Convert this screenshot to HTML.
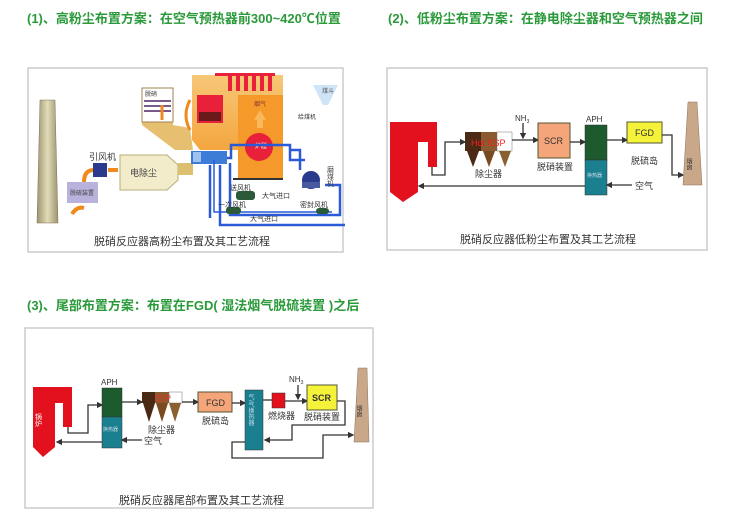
<!DOCTYPE html>
<html><head><meta charset="utf-8"><style>
html,body{margin:0;padding:0;background:#fff;width:730px;height:521px;overflow:hidden}
svg{display:block;font-family:"Liberation Sans","Noto Sans CJK SC",sans-serif}
.t{fill:#2a9a3a;font-weight:bold;font-size:13px}
.c{fill:#333;font-size:11px}
.s{fill:#333;font-size:9px}
.l{stroke:#333;stroke-width:1.3;fill:none}
</style></head><body>
<svg width="730" height="521" viewBox="0 0 730 521" xmlns="http://www.w3.org/2000/svg">
<defs>
<marker id="a" markerWidth="5" markerHeight="5" refX="4" refY="2.5" orient="auto"><path d="M0,0L5,2.5L0,5z" fill="#333"/></marker>
<linearGradient id="ch" x1="0" x2="1"><stop offset="0" stop-color="#9d9470"/><stop offset=".5" stop-color="#e3dcb8"/><stop offset="1" stop-color="#9d9470"/></linearGradient>
<linearGradient id="bo" x1="0" y1="0" x2="0" y2="1"><stop offset="0" stop-color="#f7c878"/><stop offset="1" stop-color="#f39a2c"/></linearGradient>
</defs>
<!-- titles -->
<text class="t" x="27" y="23">(1)、高粉尘布置方案：在空气预热器前300~420℃位置</text>
<text class="t" x="388" y="23">(2)、低粉尘布置方案：在静电除尘器和空气预热器之间</text>
<text class="t" x="27" y="310">(3)、尾部布置方案：布置在FGD( 湿法烟气脱硫装置 )之后</text>

<!-- panel 1 -->
<rect x="28" y="68" width="315" height="184" fill="#fff" stroke="#ccc" stroke-width="1.5"/>
<polygon points="40,100 55,100 58,223 37,223" fill="url(#ch)" stroke="#7a7355" stroke-width=".5"/>
<rect x="67" y="182" width="31" height="21" fill="#b8b2dc"/>
<text x="70" y="195" style="font-size:6px;fill:#444">脱硫装置</text>
<path d="M72,214 q5,-8 12,-6 M84,182 q0,-12 10,-12" stroke="#f08a1e" stroke-width="4" fill="none"/>
<text class="s" x="89" y="160">引风机</text>
<rect x="93" y="163" width="14" height="14" fill="#2a3a8c"/>
<path d="M108,170 L118,170" stroke="#f08a1e" stroke-width="4"/>
<polygon points="120,155 167,155 178,165 178,180 167,190 120,190" fill="#f2eccb" stroke="#b8ad7a"/>
<text x="130" y="176" style="font-size:9px;fill:#444">电除尘</text>
<rect x="178" y="163" width="15" height="12" fill="#dcc070"/>
<rect x="191" y="151" width="36" height="13" fill="#3c7bd6"/>
<rect x="193" y="152" width="8" height="10" fill="#9ec3f0"/>
<polygon points="142,88 173,88 173,125 190,128 193,150 175,150 142,125" fill="#e6c070"/>
<rect x="142" y="88" width="31" height="34" fill="#fff" stroke="#a08050"/>
<text x="145" y="96" style="font-size:6px;fill:#333">脱硝</text>
<rect x="144" y="100" width="27" height="2" fill="#7a5a8a"/><rect x="144" y="105" width="27" height="2" fill="#7a5a8a"/><rect x="144" y="110" width="27" height="2" fill="#7a5a8a"/>
<path d="M162,120 v-15 M190,100 q-8,15 0,30" stroke="#f08a1e" stroke-width="3" fill="none"/>
<polygon points="192,75 283,75 283,175 240,175 240,150 200,150 192,140" fill="url(#bo)"/>
<polygon points="200,72 280,72 280,85 275,85" fill="none"/>
<g fill="#e8203a"><rect x="228" y="73" width="4" height="18"/><rect x="236" y="73" width="4" height="18"/><rect x="244" y="73" width="4" height="18"/><rect x="252" y="73" width="4" height="18"/><rect x="260" y="73" width="4" height="18"/><rect x="268" y="73" width="4" height="18"/><rect x="215" y="73" width="60" height="3"/></g>
<rect x="197" y="95" width="26" height="28" fill="#e8203a"/><rect x="199" y="112" width="22" height="9" fill="#6a1a1a"/>
<rect x="238" y="95" width="45" height="85" fill="#f59a2a"/>
<polygon points="254,120 260,110 266,120 263,120 263,128 257,128 257,120" fill="#f8b85a"/>
<text x="254" y="106" style="font-size:6px;fill:#833">烟气</text>
<circle cx="259" cy="147" r="14" fill="#e8203a"/>
<text x="255" y="148" style="font-size:6px;fill:#fff">炉膛</text>
<rect x="233" y="178" width="50" height="2" fill="#333"/>
<path d="M227,158 H231 V145 H290 V160 H305 M290,150 H300 V170" stroke="#2a5ad6" stroke-width="2.5" fill="none"/>
<path d="M230,163 V215 H340 V185 H325 M220,165 V225 H345 M210,165 V218" stroke="#2a5ad6" stroke-width="2.5" fill="none"/>
<path d="M214,160 V212 H332" stroke="#2a5ad6" stroke-width="1.5" fill="none"/>
<ellipse cx="311" cy="180" rx="9" ry="9" fill="#2a3a8c"/><rect x="302" y="182" width="18" height="6" fill="#4a5aa0"/>
<text x="330" y="166" style="font-size:7px;fill:#444;writing-mode:tb">磨煤机</text>
<polygon points="313,85 338,85 328,105 323,105" fill="#cfe4f6"/>
<text x="322" y="93" style="font-size:6px;fill:#555">煤斗</text>
<text x="298" y="119" style="font-size:6px;fill:#333">给煤机</text>
<rect x="236" y="191" width="19" height="9" rx="3" fill="#2a5a3a"/>
<rect x="226" y="207" width="15" height="7" rx="3" fill="#2a5a3a"/>
<rect x="316" y="208" width="13" height="6" rx="3" fill="#2a5a3a"/>
<text x="230" y="190" style="font-size:7px;fill:#333">送风机</text>
<text x="218" y="207" style="font-size:7px;fill:#333">一次风机</text>
<text x="262" y="198" style="font-size:7px;fill:#333">大气进口</text>
<text x="250" y="221" style="font-size:7px;fill:#333">大气进口</text>
<text x="300" y="207" style="font-size:7px;fill:#333">密封风机</text>
<text class="c" x="94" y="245">脱硝反应器高粉尘布置及其工艺流程</text>

<!-- panel 2 -->
<rect x="387" y="68" width="320" height="182" fill="#fff" stroke="#ccc" stroke-width="1.5"/>
<polygon points="390,122 437,122 437,167 428,167 428,142 418,142 418,192 403,202 390,192" fill="#e3101d"/>
<path class="l" d="M432,167 V175 H445 V142 H465" marker-end="url(#a)"/>
<rect x="465" y="132" width="16" height="19" fill="#4a2a14"/><rect x="481" y="132" width="16" height="19" fill="#8a5a30"/><rect x="497" y="132" width="15" height="19" fill="#fff" stroke="#777" stroke-width=".5"/>
<polygon points="467,151 479,151 473,167" fill="#4a2a14"/><polygon points="483,151 495,151 489,167" fill="#7a4a20"/><polygon points="499,151 511,151 505,167" fill="#8a6030"/>
<text x="471" y="146" style="font-size:9px;fill:#f02020">Hot ESP</text>
<text class="s" x="475" y="177">除尘器</text>
<path class="l" d="M512,140 H538" marker-end="url(#a)"/>
<text x="515" y="121" style="font-size:8px;fill:#333">NH<tspan style="font-size:5px" dy="2">3</tspan></text>
<path class="l" d="M523,123 V138" marker-end="url(#a)"/>
<rect x="538" y="123" width="32" height="35" fill="#f4a57a" stroke="#553" stroke-width="1"/>
<text x="544" y="144" style="font-size:9px;fill:#333">SCR</text>
<text class="s" x="537" y="170">脱硝装置</text>
<path class="l" d="M570,142 H585" marker-end="url(#a)"/>
<text x="586" y="122" style="font-size:8px;fill:#333">APH</text>
<rect x="585" y="125" width="22" height="35" fill="#1d5a2e" stroke="#333" stroke-width=".5"/>
<rect x="585" y="160" width="22" height="35" fill="#1a7f8f" stroke="#333" stroke-width=".5"/>
<text x="587" y="177" style="font-size:5px;fill:#cde">换热器</text>
<path class="l" d="M607,140 H627" marker-end="url(#a)"/>
<rect x="627" y="122" width="35" height="21" fill="#f5f23a" stroke="#553" stroke-width="1"/>
<text x="635" y="136" style="font-size:9px;fill:#333">FGD</text>
<text class="s" x="631" y="164">脱硫岛</text>
<path class="l" d="M662,135 H672 V175 H683" marker-end="url(#a)"/>
<polygon points="688,102 697,102 702,185 683,185" fill="#c9a88a" stroke="#8a7058" stroke-width=".5"/>
<text x="688" y="158" style="font-size:6px;fill:#333;writing-mode:tb">烟囱</text>
<path class="l" d="M632,185 H607" marker-end="url(#a)"/>
<text class="s" x="635" y="189">空气</text>
<path class="l" d="M585,186 H419" marker-end="url(#a)"/>
<text class="c" x="460" y="243">脱硝反应器低粉尘布置及其工艺流程</text>

<!-- panel 3 -->
<rect x="25" y="328" width="348" height="180" fill="#fff" stroke="#ccc" stroke-width="1.5"/>
<polygon points="33,387 72,387 72,427 63,427 63,403 55,403 55,447 43,457 33,447" fill="#e3101d"/>
<text x="38" y="413" style="font-size:7px;fill:#fff;writing-mode:tb">锅炉</text>
<path class="l" d="M68,427 V433 H88 V405 H102" marker-end="url(#a)"/>
<text x="101" y="385" style="font-size:8px;fill:#333">APH</text>
<rect x="102" y="388" width="20" height="29" fill="#1d5a2e" stroke="#333" stroke-width=".5"/>
<rect x="102" y="417" width="20" height="31" fill="#1a7f8f" stroke="#333" stroke-width=".5"/>
<text x="103" y="431" style="font-size:5px;fill:#cde">换热器</text>
<path class="l" d="M102,442 H57" marker-end="url(#a)"/>
<path class="l" d="M142,440 H122" marker-end="url(#a)"/>
<text class="s" x="144" y="444">空气</text>
<path class="l" d="M122,402 H142" marker-end="url(#a)"/>
<rect x="142" y="392" width="13" height="11" fill="#4a2a14"/><rect x="155" y="392" width="14" height="11" fill="#8a5a30"/><rect x="169" y="392" width="13" height="11" fill="#fff" stroke="#777" stroke-width=".5"/>
<polygon points="143,403 155,403 149,422" fill="#4a2a14"/><polygon points="156,403 168,403 162,422" fill="#7a4a20"/><polygon points="169,403 181,403 175,422" fill="#8a6030"/>
<text x="155" y="401" style="font-size:8px;fill:#f03020">ESP</text>
<text class="s" x="148" y="433">除尘器</text>
<path class="l" d="M182,402 H198" marker-end="url(#a)"/>
<rect x="198" y="392" width="34" height="20" fill="#f4a57a" stroke="#553" stroke-width="1"/>
<text x="206" y="406" style="font-size:9px;fill:#333">FGD</text>
<text class="s" x="202" y="424">脱硫岛</text>
<path class="l" d="M232,403 H245" marker-end="url(#a)"/>
<rect x="245" y="390" width="18" height="60" fill="#1a7f8f" stroke="#333" stroke-width=".5"/>
<text x="250" y="394" style="font-size:6px;fill:#cde;writing-mode:tb">气/气换热器</text>
<path class="l" d="M263,400 H272"/>
<rect x="272" y="393" width="13" height="15" fill="#e3101d" stroke="#333" stroke-width=".5"/>
<text class="s" x="268" y="419">燃烧器</text>
<path class="l" d="M285,401 H307" marker-end="url(#a)"/>
<text x="289" y="382" style="font-size:8px;fill:#333">NH<tspan style="font-size:5px" dy="2">3</tspan></text>
<path class="l" d="M298,385 V399" marker-end="url(#a)"/>
<rect x="307" y="385" width="30" height="25" fill="#f5f23a" stroke="#553" stroke-width="1"/>
<text x="312" y="401" style="font-size:9px;font-weight:bold;fill:#333">SCR</text>
<text class="s" x="304" y="420">脱硝装置</text>
<path class="l" d="M337,401 H345 V425 H292 V440 H265" marker-end="url(#a)"/>
<path class="l" d="M245,442 H232 V458 H323 V435 H353" marker-end="url(#a)"/>
<polygon points="358,368 367,368 369,442 354,442" fill="#c9a88a" stroke="#8a7058" stroke-width=".5"/>
<text x="358" y="405" style="font-size:6px;fill:#333;writing-mode:tb">烟囱</text>
<text class="c" x="119" y="504">脱硝反应器尾部布置及其工艺流程</text>
</svg>
</body></html>
